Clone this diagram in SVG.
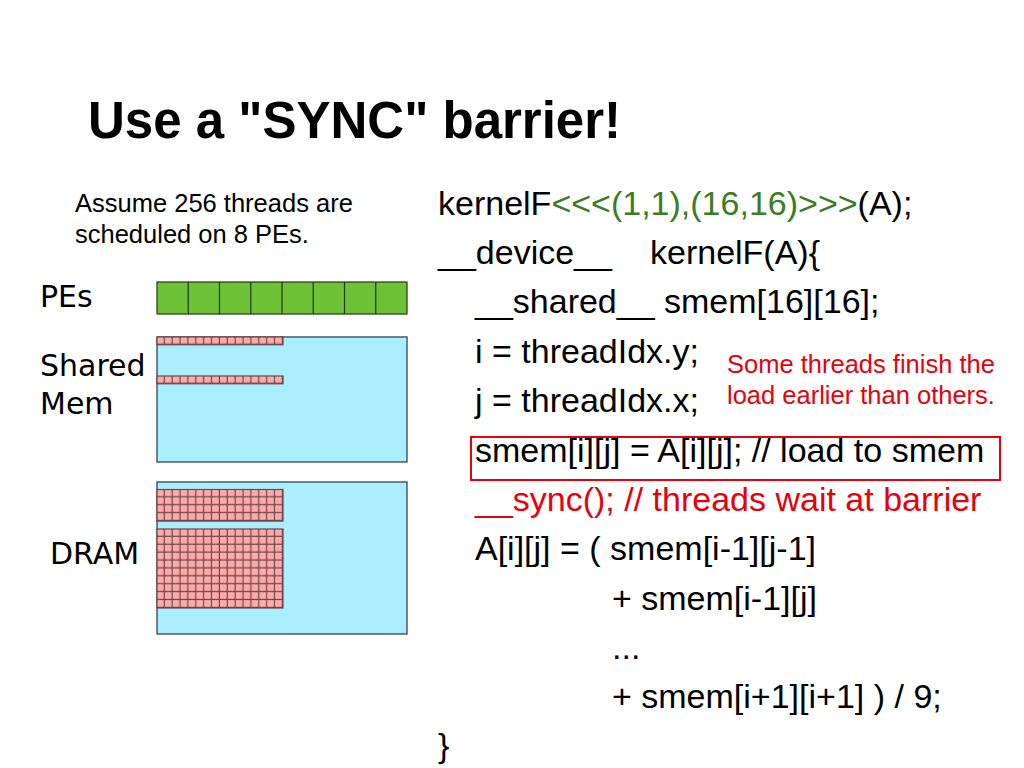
<svg xmlns="http://www.w3.org/2000/svg" width="1024" height="768" viewBox="0 0 1024 768">
<defs>
<style>
.title{font-family:"Liberation Sans",Arial,sans-serif;font-weight:bold;font-size:51px;fill:#000}
.note{font-family:"Liberation Sans",Arial,sans-serif;font-size:25.5px;fill:#000}
.rnote{font-family:"Liberation Sans",Arial,sans-serif;font-size:25.5px;fill:#e8000b}
.lbl{font-family:"DejaVu Sans",sans-serif;font-size:30px;fill:#000}
.code{font-family:"Liberation Sans",Arial,sans-serif;font-size:34px;fill:#000}
.grn{fill:#3a7d22}
.red{fill:#e8000b}
.pe{fill:#6ec235;stroke:#1f3a12;stroke-width:1.2}
.mem{fill:#aaeeff;stroke:#34454c;stroke-width:1.3}
.cellb{fill:none;stroke:#6b4545;stroke-width:1.2}
</style>
<pattern id="gridS" patternUnits="userSpaceOnUse" x="157" y="337" width="7.875" height="7.8">
<rect width="7.875" height="7.8" fill="#ffaaaa"/>
<path d="M7.3 0V7.8M0 7.2H7.875" stroke="#6b4545" stroke-width="1.2" fill="none"/>
</pattern>
<pattern id="gridD" patternUnits="userSpaceOnUse" x="157" y="489.5" width="7.875" height="7.9">
<rect width="7.875" height="7.9" fill="#ffaaaa"/>
<path d="M7.3 0V7.9M0 7.3H7.875" stroke="#6b4545" stroke-width="1.2" fill="none"/>
</pattern>
</defs>
<rect width="1024" height="768" fill="#fff"/>
<text class="title" x="88" y="138">Use a "SYNC" barrier!</text>
<g id="assumption">
<text class="note" x="75" y="212">Assume 256 threads are</text>
<text class="note" x="75" y="243">scheduled on 8 PEs.</text>
</g>
<g id="pes">
<text class="lbl" x="40" y="307">PEs</text>
<rect class="pe" x="157" y="282" width="250" height="32"/>
<path d="M188.25 282V314M219.5 282V314M250.75 282V314M282 282V314M313.25 282V314M344.5 282V314M375.75 282V314" stroke="#1f3a12" stroke-width="1.2"/>
</g>
<g id="shared-mem">
<text class="lbl" x="40" y="376">Shared</text>
<text class="lbl" x="40" y="414">Mem</text>
<rect class="mem" x="157" y="337" width="250" height="125"/>
<rect x="157" y="337" width="126" height="7.8" class="cellb" style="fill:url(#gridS)"/>
<rect x="157" y="376" width="126" height="7.8" class="cellb" style="fill:url(#gridS)"/>
</g>
<g id="dram">
<text class="lbl" x="50" y="564">DRAM</text>
<rect class="mem" x="157" y="482" width="250" height="152"/>
<rect x="157" y="489.5" width="126" height="31.6" class="cellb" style="fill:url(#gridD)"/>
<rect x="157" y="529" width="126" height="79" class="cellb" style="fill:url(#gridD)"/>
</g>
<g id="code">
<text class="code" x="438" y="215">kernelF<tspan class="grn">&lt;&lt;&lt;(1,1),(16,16)&gt;&gt;&gt;</tspan>(A);</text>
<text class="code" x="438" y="264">__device__</text>
<text class="code" x="650" y="264">kernelF(A){</text>
<text class="code" x="475" y="313">__shared__ smem[16][16];</text>
<text class="code" x="475" y="363">i = threadIdx.y;</text>
<text class="code" x="475" y="412">j = threadIdx.x;</text>
<text class="code" x="475" y="462">smem[i][j] = A[i][j]; // load to smem</text>
<text class="code red" x="475" y="511">__sync(); // threads wait at barrier</text>
<text class="code" x="475" y="560">A[i][j] = ( smem[i-1][j-1]</text>
<text class="code" x="612" y="610">+ smem[i-1][j]</text>
<text class="code" x="612" y="659">...</text>
<text class="code" x="612" y="708">+ smem[i+1][i+1] ) / 9;</text>
<text class="code" x="438" y="757">}</text>
</g>
<g id="highlight">
<rect x="471" y="437" width="529" height="43" fill="none" stroke="#e8000b" stroke-width="2"/>
</g>
<g id="remark">
<text class="rnote" x="727" y="373">Some threads finish the</text>
<text class="rnote" x="727" y="404">load earlier than others.</text>
</g>
</svg>
